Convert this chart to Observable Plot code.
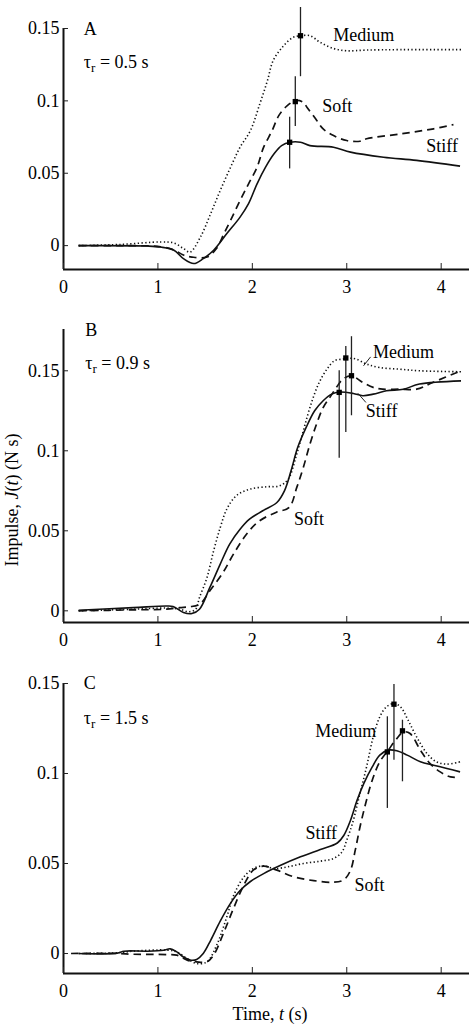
<!DOCTYPE html>
<html>
<head>
<meta charset="utf-8">
<script src="https://cdn.jsdelivr.net/npm/d3@7"></script>
<script src="https://cdn.jsdelivr.net/npm/@observablehq/plot@0.6"></script>
<style>
  html, body { margin: 0; padding: 0; background: #fff; }
  #fig { position: relative; width: 470px; height: 1030px; overflow: hidden; background: #fff; font-family: "Liberation Serif", Tinos, "DejaVu Serif", serif; }
  #fig > svg { position: absolute; left: 0; }
  #fig text { font-family: "Liberation Serif", Tinos, "DejaVu Serif", serif; }
</style>
</head>
<body>
<div id="fig"></div>
<script>
// ---------- data (time t in s, impulse J in N s) ----------
const conditions = ["Medium", "Soft", "Stiff"];
const xTicks = [0, 1, 2, 3, 4];
const yTicks = [0, 0.05, 0.1, 0.15];

// Panel A, tau_r = 0.5 s
const A_medium_t = [0.16, 0.6, 1.03, 1.17, 1.27, 1.34, 1.45, 1.56, 1.66, 1.77, 1.87, 1.98, 2.08, 2.16, 2.22, 2.33, 2.43, 2.51, 2.61, 2.72, 2.86, 3.00, 3.21, 3.57, 4.22];
const A_medium_J = [0, 0.0008, 0.0025, 0.0018, -0.002, -0.0045, 0.0059, 0.0223, 0.0381, 0.0542, 0.068, 0.0795, 0.0981, 0.114, 0.1277, 0.138, 0.1438, 0.145, 0.145, 0.1404, 0.1362, 0.1346, 0.1351, 0.1354, 0.1354];
const A_soft_t = [0.16, 0.6, 1.03, 1.17, 1.27, 1.36, 1.52, 1.62, 1.70, 1.77, 1.87, 1.96, 2.05, 2.12, 2.21, 2.28, 2.37, 2.46, 2.54, 2.58, 2.67, 2.75, 2.86, 3.00, 3.14, 3.21, 3.57, 3.92, 4.13];
const A_soft_J = [0, 0, -0.0008, -0.003, -0.0065, -0.0079, -0.0079, -0.002, 0.0083, 0.0175, 0.0312, 0.0427, 0.0542, 0.068, 0.0795, 0.0898, 0.0967, 0.1002, 0.099, 0.0955, 0.0876, 0.0806, 0.076, 0.0726, 0.0721, 0.0738, 0.0772, 0.0807, 0.0836];
const A_stiff_t = [0.16, 0.89, 1.03, 1.17, 1.27, 1.38, 1.48, 1.59, 1.73, 1.87, 1.96, 2.05, 2.14, 2.23, 2.31, 2.40, 2.51, 2.61, 2.86, 3.04, 3.39, 3.74, 4.20];
const A_stiff_J = [0, -0.0003, -0.001, -0.0032, -0.009, -0.0124, -0.009, -0.0032, 0.0083, 0.0197, 0.029, 0.0427, 0.0542, 0.0634, 0.0691, 0.0714, 0.0714, 0.0691, 0.068, 0.0646, 0.0611, 0.0589, 0.0549];
const A_peak_t  = [2.51, 2.455, 2.395];
const A_peak_J  = [0.145, 0.0995, 0.0714];
const A_peak_lo = [0.1167, 0.0823, 0.053];
const A_peak_hi = [0.1645, 0.1167, 0.0887];
const A_label_text = ["Medium", "Soft", "Stiff"];
const A_label_t = [3.18, 2.90, 4.01];
const A_label_J = [0.1455, 0.096, 0.0687];

// Panel B, tau_r = 0.9 s
const B_medium_t = [0.16, 0.73, 1.09, 1.23, 1.33, 1.40, 1.44, 1.52, 1.59, 1.66, 1.73, 1.83, 1.97, 2.15, 2.29, 2.38, 2.47, 2.54, 2.61, 2.70, 2.79, 2.87, 2.96, 3.03, 3.10, 3.21, 3.35, 3.56, 3.77, 4.21];
const B_medium_J = [0, 0.001, 0.0017, 0.001, -0.0006, 0.001, 0.0083, 0.0208, 0.0375, 0.052, 0.0636, 0.0719, 0.076, 0.0775, 0.0781, 0.0823, 0.0979, 0.1125, 0.127, 0.1417, 0.151, 0.1563, 0.1573, 0.1578, 0.1573, 0.1542, 0.152, 0.151, 0.150, 0.1494];
const B_soft_t = [0.16, 0.73, 1.09, 1.23, 1.33, 1.44, 1.55, 1.69, 1.80, 1.94, 2.07, 2.25, 2.39, 2.47, 2.54, 2.61, 2.68, 2.75, 2.82, 2.89, 2.96, 3.05, 3.17, 3.28, 3.38, 3.56, 3.74, 3.91, 4.21];
const B_soft_J = [0, 0.0006, 0.001, 0.002, 0.0025, 0.004, 0.0125, 0.024, 0.0354, 0.048, 0.056, 0.0615, 0.0646, 0.0770, 0.0896, 0.1042, 0.1167, 0.127, 0.1333, 0.1396, 0.1448, 0.1469, 0.1427, 0.1396, 0.1385, 0.1385, 0.1385, 0.1427, 0.150];
const B_stiff_t = [0.16, 0.74, 1.09, 1.16, 1.27, 1.36, 1.44, 1.55, 1.66, 1.76, 1.87, 1.97, 2.11, 2.26, 2.34, 2.41, 2.48, 2.57, 2.66, 2.75, 2.84, 2.92, 3.07, 3.17, 3.28, 3.42, 3.60, 3.77, 4.21];
const B_stiff_J = [0.0004, 0.002, 0.003, 0.0027, -0.001, -0.0017, 0.001, 0.0146, 0.0292, 0.0417, 0.051, 0.0573, 0.0625, 0.0677, 0.075, 0.0875, 0.102, 0.1146, 0.125, 0.1313, 0.1354, 0.1367, 0.1358, 0.1344, 0.1354, 0.1375, 0.1385, 0.1417, 0.1437];
const B_peak_t  = [2.99, 3.05, 2.92];
const B_peak_J  = [0.158, 0.1469, 0.1365];
const B_peak_lo = [0.1115, 0.1219, 0.0954];
const B_peak_hi = [0.1652, 0.1713, 0.150];
const B_label_text = ["Medium", "Soft", "Stiff"];
const B_label_t = [3.60, 2.60, 3.37];
const B_label_J = [0.1614, 0.0573, 0.125];
const B_leader_t = [3.25, 3.18, 3.20, 3.12];
const B_leader_J = [0.1585, 0.1533, 0.1304, 0.1358];
const B_leader_id = ["Medium", "Medium", "Stiff", "Stiff"];

// Panel C, tau_r = 1.5 s
const C_medium_t = [0.16, 0.57, 0.74, 1.10, 1.20, 1.31, 1.41, 1.52, 1.63, 1.73, 1.80, 1.91, 2.01, 2.12, 2.23, 2.37, 2.54, 2.72, 2.86, 2.95, 3.00, 3.06, 3.14, 3.21, 3.28, 3.35, 3.42, 3.50, 3.57, 3.65, 3.74, 3.85, 3.95, 4.06, 4.20];
const C_medium_J = [0, 0.0004, 0.0013, 0.0019, 0.0009, -0.0028, -0.0056, -0.0046, 0.0056, 0.0204, 0.032, 0.0425, 0.0472, 0.0487, 0.0472, 0.0481, 0.05, 0.0513, 0.0528, 0.0565, 0.063, 0.0722, 0.0889, 0.1037, 0.1203, 0.1315, 0.137, 0.1389, 0.137, 0.1296, 0.1203, 0.1111, 0.1065, 0.1052, 0.1065];
const C_soft_t = [0.08, 0.57, 0.74, 1.10, 1.20, 1.31, 1.41, 1.52, 1.59, 1.70, 1.80, 1.91, 2.01, 2.12, 2.26, 2.44, 2.65, 2.86, 2.97, 3.04, 3.09, 3.14, 3.20, 3.27, 3.35, 3.44, 3.53, 3.60, 3.67, 3.78, 3.88, 3.99, 4.10, 4.20];
const C_soft_J = [0, 0, -0.0004, -0.0006, -0.0009, -0.0037, -0.0046, -0.0046, -0.0009, 0.012, 0.025, 0.038, 0.0463, 0.0485, 0.0463, 0.0426, 0.0405, 0.0396, 0.041, 0.0463, 0.0574, 0.0703, 0.0833, 0.0963, 0.1065, 0.113, 0.1194, 0.1231, 0.1222, 0.113, 0.1056, 0.1009, 0.0981, 0.0978];
const C_stiff_t = [0.16, 0.57, 0.64, 0.89, 1.06, 1.13, 1.20, 1.27, 1.35, 1.41, 1.48, 1.56, 1.66, 1.77, 1.87, 1.98, 2.12, 2.30, 2.51, 2.72, 2.90, 2.97, 3.04, 3.11, 3.18, 3.27, 3.35, 3.44, 3.53, 3.64, 3.78, 3.92, 4.06, 4.20];
const C_stiff_J = [0, 0.0002, 0.0013, 0.0013, 0.0018, 0.0026, 0.0009, -0.0019, -0.0037, -0.0033, 0, 0.0075, 0.018, 0.028, 0.035, 0.040, 0.0444, 0.049, 0.0537, 0.0578, 0.0614, 0.0657, 0.074, 0.0852, 0.0944, 0.1037, 0.1102, 0.113, 0.1126, 0.1102, 0.1065, 0.1046, 0.1028, 0.1009];
const C_peak_t  = [3.50, 3.59, 3.43];
const C_peak_J  = [0.1385, 0.1237, 0.112];
const C_peak_lo = [0.1074, 0.0954, 0.0806];
const C_peak_hi = [0.1494, 0.1296, 0.1315];
const C_label_text = ["Medium", "Soft", "Stiff"];
const C_label_t = [2.99, 3.24, 2.73];
const C_label_J = [0.1237, 0.038, 0.0667];

const panelLetters = ["A", "B", "C"];
const tauText = ["τr = 0.5 s", "τr = 0.9 s", "τr = 1.5 s"];
const header_t = [0.215, 0.23, 0.215];
const letter_J = [0.1496, 0.1754, 0.15];
const tau_J = [0.1266, 0.1548, 0.1306];

// ---------- helpers ----------
const zip = (ts, js) => ts.map((t, i) => ({t, J: js[i]}));
const FONT = "Liberation Serif, Tinos, DejaVu Serif, serif";

const styles = {
  Medium: {strokeDasharray: "1.3,2.4", strokeWidth: 1.6},
  Soft:   {strokeDasharray: "7.5,5", strokeWidth: 1.7},
  Stiff:  {strokeWidth: 1.6}
};

const panels = [
  {top: 0,   height: 300, mt: 28, mb: 31, yDomain: [-0.0165, 0.15],
   series: {Medium: [A_medium_t, A_medium_J], Soft: [A_soft_t, A_soft_J], Stiff: [A_stiff_t, A_stiff_J]},
   peaks: [A_peak_t, A_peak_J, A_peak_lo, A_peak_hi], labels: [A_label_text, A_label_t, A_label_J]},
  {top: 310, height: 340, mt: 19, mb: 28, yDomain: [-0.0073, 0.1758],
   series: {Medium: [B_medium_t, B_medium_J], Soft: [B_soft_t, B_soft_J], Stiff: [B_stiff_t, B_stiff_J]},
   peaks: [B_peak_t, B_peak_J, B_peak_lo, B_peak_hi], labels: [B_label_text, B_label_t, B_label_J],
   leaders: B_leader_t.map((t, i) => ({t, J: B_leader_J[i], id: B_leader_id[i]}))},
  {top: 650, height: 380, mt: 33, mb: 57, yDomain: [-0.0111, 0.15],
   series: {Medium: [C_medium_t, C_medium_J], Soft: [C_soft_t, C_soft_J], Stiff: [C_stiff_t, C_stiff_J]},
   peaks: [C_peak_t, C_peak_J, C_peak_lo, C_peak_hi], labels: [C_label_text, C_label_t, C_label_J]}
];

const fig = document.getElementById("fig");
const NS = "http://www.w3.org/2000/svg";

panels.forEach((p, k) => {
  const marks = [];
  marks.push(Plot.ruleX([0], {stroke: "#111", strokeWidth: 2}));
  marks.push(Plot.ruleY([p.yDomain[0]], {stroke: "#111", strokeWidth: 2}));
  marks.push(Plot.axisX({ticks: xTicks, tickSize: -6, tickPadding: 17, tickFormat: d => String(d), stroke: "#222", label: null, fontSize: 18}));
  marks.push(Plot.axisY({ticks: yTicks, tickSize: -5, tickPadding: 9, tickFormat: d => String(d), stroke: "#222", label: null, fontSize: 18}));
  for (const c of conditions) {
    const [ts, js] = p.series[c];
    marks.push(Plot.line(zip(ts, js), {x: "t", y: "J", curve: "catmull-rom", stroke: "#111", strokeLinecap: "butt", ...styles[c]}));
  }
  const [pt, pj, plo, phi] = p.peaks;
  const peaks = conditions.map((c, i) => ({c, t: pt[i], J: pj[i], lo: plo[i], hi: phi[i]}));
  marks.push(Plot.ruleX(peaks, {x: "t", y1: "lo", y2: "hi", stroke: "#222", strokeWidth: 1.3}));
  marks.push(Plot.dot(peaks, {x: "t", y: "J", symbol: "square", r: 3, fill: "#000", stroke: "none"}));
  if (p.leaders) marks.push(Plot.line(p.leaders, {x: "t", y: "J", z: "id", stroke: "#222", strokeWidth: 1, curve: "natural"}));
  const [lt, ltt, lj] = p.labels;
  marks.push(Plot.text(lt.map((s, i) => ({s, t: ltt[i], J: lj[i]})), {x: "t", y: "J", text: "s", fill: "#000", fontSize: 18}));
  marks.push(Plot.text([{s: panelLetters[k], t: header_t[k], J: letter_J[k]}], {x: "t", y: "J", text: "s", textAnchor: "start", fill: "#000", fontSize: 18}));
  marks.push(Plot.text([{s: tauText[k], t: header_t[k], J: tau_J[k]}], {x: "t", y: "J", text: "s", textAnchor: "start", fill: "#000", fontSize: 18}));

  const svg = Plot.plot({
    width: 470,
    height: p.height,
    marginLeft: 63,
    marginRight: 1,
    marginTop: p.mt,
    marginBottom: p.mb,
    x: {domain: [0, 4.3], axis: null},
    y: {domain: p.yDomain, axis: null},
    style: {fontFamily: FONT, fontSize: "18px", background: "transparent", color: "#000", overflow: "visible"},
    marks
  });
  svg.style.top = p.top + "px";
  svg.style.fontFamily = FONT;
  svg.querySelectorAll("text").forEach(el => {
    const s = el.textContent;
    if (s.startsWith("τr")) {
      const rest = s.slice(2);
      el.textContent = "";
      const a = document.createElementNS(NS, "tspan"); a.textContent = "τ";
      const b = document.createElementNS(NS, "tspan"); b.textContent = "r"; b.setAttribute("dy", "4"); b.setAttribute("font-size", "13");
      const c = document.createElementNS(NS, "tspan"); c.textContent = rest; c.setAttribute("dy", "-4");
      el.append(a, b, c);
    }
  });
  fig.appendChild(svg);
});

// axis titles overlay
const ov = document.createElementNS(NS, "svg");
ov.setAttribute("width", 470); ov.setAttribute("height", 1030);
ov.style.top = "0px";
ov.style.fontFamily = FONT; ov.style.fontSize = "18px";
ov.innerHTML =
  '<text transform="translate(18,500) rotate(-90)" text-anchor="middle">Impulse, <tspan font-style="italic">J</tspan>(<tspan font-style="italic">t</tspan>) (N s)</text>' +
  '<text x="270" y="1020" text-anchor="middle">Time, <tspan font-style="italic">t</tspan> (s)</text>';
fig.appendChild(ov);
</script>
</body>
</html>
